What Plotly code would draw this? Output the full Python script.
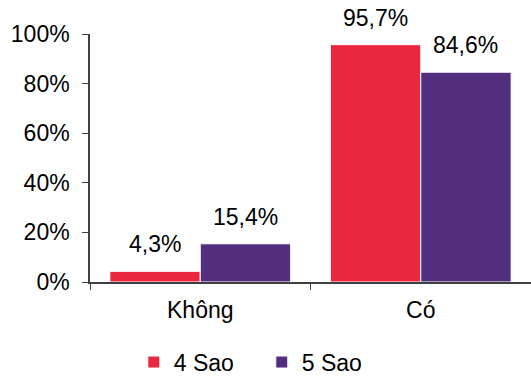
import plotly.graph_objects as go

categories = ["Không", "Có"]
series_names = ["4 Sao", "5 Sao"]
values_4sao = [4.3, 95.7]
values_5sao = [15.4, 84.6]
colors = ["#E9283F", "#532E7E"]
y_ticks = [0, 20, 40, 60, 80, 100]

FONT_SIZE = 23
BARGAP = 0.18


def pct_label(v):
    return f"{v:.1f}%".replace(".", ",")


fig = go.Figure()
all_series = [values_4sao, values_5sao]
for name, vals, col in zip(series_names, all_series, colors):
    fig.add_trace(go.Bar(
        x=categories,
        y=[v / 100 for v in vals],
        name=name,
        marker=dict(color=col, line=dict(color="white", width=1)),
    ))

# value labels floating above each bar
half = (1 - BARGAP) / 4
for s, vals in enumerate(all_series):
    offset = -half if s == 0 else half
    for i, v in enumerate(vals):
        fig.add_annotation(
            x=i + offset, y=v / 100, xref="x", yref="y",
            text=pct_label(v), showarrow=False,
            yanchor="bottom", yshift=12,
            font=dict(size=FONT_SIZE, color="black"),
        )

fig.update_layout(
    width=531, height=376,
    margin=dict(l=90, r=0, t=34, b=94),
    paper_bgcolor="white", plot_bgcolor="white",
    font=dict(family="Liberation Sans, Arial, sans-serif", size=FONT_SIZE, color="black"),
    barmode="group",
    bargap=BARGAP,
    bargroupgap=0.0,
    showlegend=True,
    legend=dict(
        orientation="h",
        xref="container", yref="container",
        x=0.493, xanchor="center",
        y=0.037, yanchor="middle",
        entrywidth=83, entrywidthmode="pixels",
        font=dict(size=FONT_SIZE),
    ),
    xaxis=dict(
        showline=True, linecolor="#404040", linewidth=1.5,
        ticks="outside", tickson="boundaries", ticklen=6, tickcolor="#404040",
        ticklabelstandoff=7,
        tickfont=dict(size=FONT_SIZE),
        showgrid=False,
    ),
    yaxis=dict(
        range=[0, 1],
        tickvals=[t / 100 for t in y_ticks],
        ticktext=[f"{t}%" for t in y_ticks],
        showline=True, linecolor="#404040", linewidth=1.5,
        ticks="outside", ticklen=6, tickcolor="#404040",
        ticklabelstandoff=8,
        tickfont=dict(size=FONT_SIZE),
        showgrid=False, zeroline=False,
    ),
)

fig.write_html("out.html")
